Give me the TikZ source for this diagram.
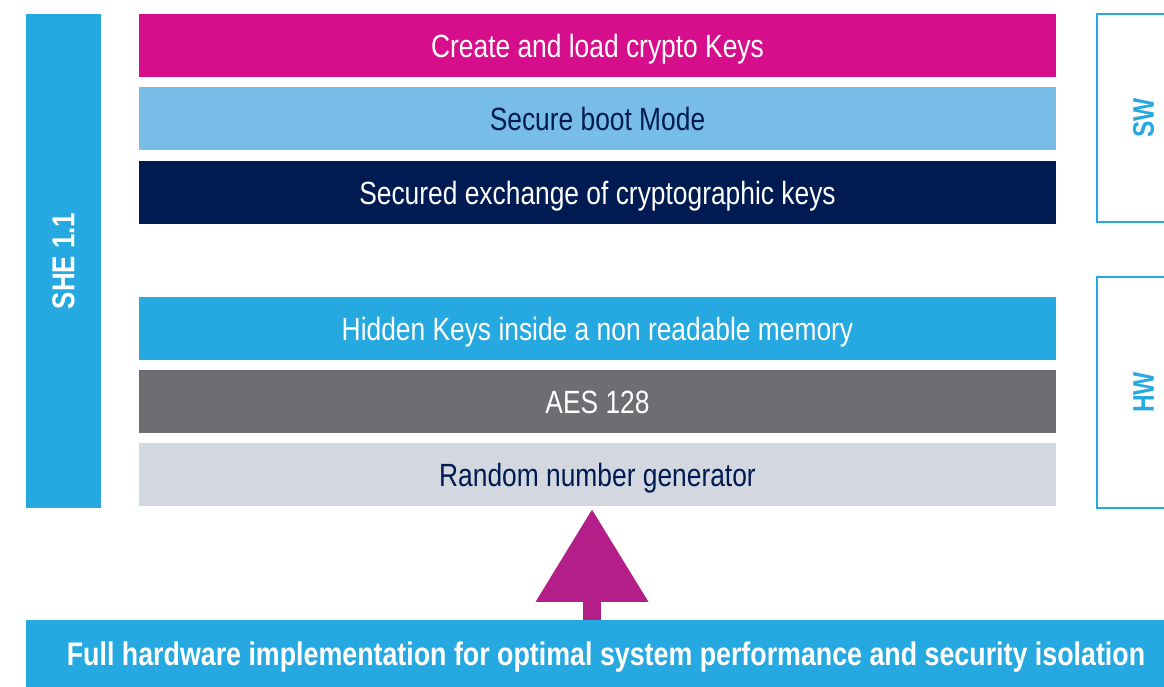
\documentclass[tikz,border=0pt]{standalone}
\usepackage{fontspec}
\setmainfont{Liberation Sans}[FakeStretch=0.82]
\usetikzlibrary{arrows.meta}
\definecolor{stmagenta}{RGB}{215,14,140}
\definecolor{stlight}{RGB}{119,189,231}
\definecolor{stnavy}{RGB}{0,26,82}
\definecolor{stcyan}{RGB}{38,169,224}
\definecolor{stgray}{RGB}{109,110,113}
\definecolor{stpale}{RGB}{211,216,224}
\definecolor{starrow}{RGB}{180,30,137}

\begin{document}
\begin{tikzpicture}[
  layer/.style={minimum width=18.34cm, minimum height=1.26cm, inner sep=0pt,
    text height=16.8pt, text depth=3.7pt, font=\fontsize{18.3}{20}\selectfont},
  side/.style={draw=stcyan, line width=0.7pt, minimum width=1.86cm, inner sep=0pt,
    text=stcyan, font=\bfseries\fontsize{17}{20}\selectfont}
]
\useasboundingbox (0,0) rectangle (23.28,13.74);
\path (1.27,8.52) node (she) [fill=stcyan, minimum width=9.88cm, minimum height=1.5cm,
  inner sep=0pt, text=white, font=\bfseries\fontsize{18}{20}\selectfont, rotate=90] {SHE 1.1};
\path (11.95,12.83) node (keys) [layer, fill=stmagenta, text=white] {Create and load crypto Keys};
\path (11.95,11.36) node (boot) [layer, fill=stlight, text=stnavy] {Secure boot Mode};
\path (11.95,9.89) node (exch) [layer, fill=stnavy, text=white] {Secured exchange of cryptographic keys};
\path (11.95,7.17) node (hidden) [layer, fill=stcyan, text=white] {Hidden Keys inside a non readable memory};
\path (11.95,5.71) node (aes) [layer, fill=stgray, text=white] {AES 128};
\path (11.95,4.25) node (rng) [layer, fill=stpale, text=stnavy] {Random number generator};
\path (22.87,11.38) node (sw) [side, minimum height=4.16cm] {\rotatebox{90}{SW}};
\path (22.87,5.89) node (hw) [side, minimum height=4.62cm] {\rotatebox{90}{HW}};
\path (12.12,0.67) node (full) [fill=stcyan, minimum width=23.2cm, minimum height=1.34cm,
  inner sep=0pt, text height=17.1pt, text depth=3.7pt, text=white,
  font=\bfseries\fontsize{18.6}{20}\selectfont]
  {Full hardware implementation for optimal system performance and security isolation};
\coordinate (tip) at (11.84,3.56);
\draw[starrow, line width=0.36cm, -{Triangle[width=2.16cm, length=1.86cm]}]
  (full.north -| tip) -- (tip);
\end{tikzpicture}
\end{document}
